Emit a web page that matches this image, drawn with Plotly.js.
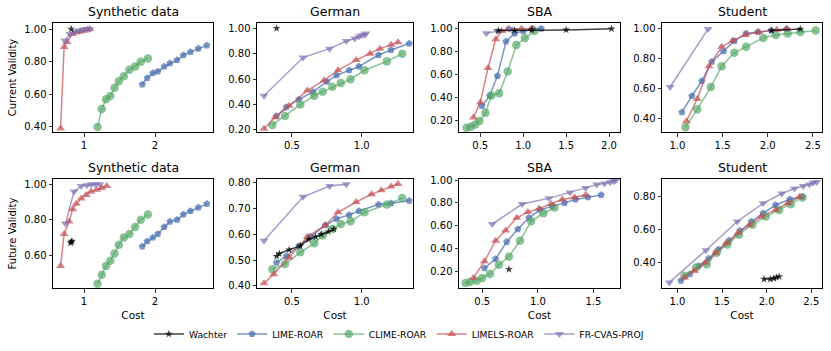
<!DOCTYPE html>
<html>
<head>
<meta charset="utf-8">
<script src="https://cdn.plot.ly/plotly-3.0.1.min.js"></script>
<style>
body { margin: 0; padding: 0; background: #fff; }
#c1 { width: 831px; height: 351px; }
</style>
</head>
<body>
<div id="c1"></div>
<script>
var names = ['Wachter', 'LIME-ROAR', 'CLIME-ROAR', 'LIMELS-ROAR', 'FR-CVAS-PROJ'];
var panelTitles = ['Synthetic data', 'German', 'SBA', 'Student'];

// ---- Synthetic data, current validity
var synCurWachterX = [0.82];
var synCurWachterY = [1.00];
var synCurLimeX = [1.82, 1.89, 1.97, 2.04, 2.13, 2.21, 2.31, 2.40, 2.50, 2.61, 2.73];
var synCurLimeY = [0.66, 0.70, 0.73, 0.74, 0.77, 0.79, 0.81, 0.84, 0.86, 0.88, 0.90];
var synCurClimeX = [1.19, 1.25, 1.31, 1.37, 1.43, 1.49, 1.56, 1.64, 1.72, 1.80, 1.90];
var synCurClimeY = [0.40, 0.51, 0.57, 0.59, 0.64, 0.68, 0.71, 0.75, 0.77, 0.80, 0.82];
var synCurLimelsX = [0.67, 0.72, 0.76, 0.84, 0.90, 0.95, 1.00, 1.05, 1.08];
var synCurLimelsY = [0.39, 0.89, 0.92, 0.97, 0.98, 0.985, 0.99, 0.995, 1.00];
var synCurFrX = [0.73, 0.80, 0.87, 0.93, 0.98, 1.03, 1.08];
var synCurFrY = [0.93, 0.97, 0.985, 0.99, 0.995, 1.00, 1.00];

// ---- German, current validity
var gerCurWachterX = [0.39];
var gerCurWachterY = [1.00];
var gerCurLimeX = [0.39, 0.46, 0.55, 0.65, 0.75, 0.82, 0.91, 0.98, 1.12, 1.21, 1.34];
var gerCurLimeY = [0.31, 0.38, 0.44, 0.50, 0.58, 0.63, 0.67, 0.70, 0.79, 0.83, 0.88];
var gerCurClimeX = [0.36, 0.45, 0.56, 0.66, 0.72, 0.79, 0.85, 0.92, 1.02, 1.18, 1.29];
var gerCurClimeY = [0.24, 0.31, 0.40, 0.47, 0.50, 0.54, 0.57, 0.60, 0.67, 0.74, 0.80];
var gerCurLimelsX = [0.30, 0.38, 0.48, 0.61, 0.73, 0.83, 0.96, 1.06, 1.13, 1.21, 1.26];
var gerCurLimelsY = [0.21, 0.30, 0.39, 0.51, 0.59, 0.67, 0.75, 0.80, 0.84, 0.87, 0.89];
var gerCurFrX = [0.30, 0.58, 0.77, 0.89, 0.95, 0.98, 1.00, 1.02, 1.03];
var gerCurFrY = [0.47, 0.77, 0.84, 0.90, 0.92, 0.935, 0.945, 0.95, 0.96];

// ---- SBA, current validity
var sbaCurWachterX = [0.71, 0.90, 1.10, 1.50, 2.03];
var sbaCurWachterY = [0.985, 0.985, 0.99, 0.99, 1.00];
var sbaCurLimeX = [0.52, 0.61, 0.70, 0.80, 0.90, 1.00, 1.11, 1.21];
var sbaCurLimeY = [0.33, 0.42, 0.59, 0.89, 0.96, 0.98, 1.00, 1.00];
var sbaCurClimeX = [0.34, 0.39, 0.44, 0.49, 0.56, 0.63, 0.72, 0.82, 0.92, 1.02, 1.13];
var sbaCurClimeY = [0.14, 0.15, 0.17, 0.20, 0.27, 0.42, 0.44, 0.63, 0.86, 0.92, 0.98];
var sbaCurLimelsX = [0.42, 0.50, 0.59, 0.68, 0.75, 0.83, 0.98, 1.10];
var sbaCurLimelsY = [0.23, 0.36, 0.66, 0.91, 0.98, 1.00, 1.00, 1.00];
var sbaCurFrX = [0.57, 0.70, 0.84];
var sbaCurFrY = [0.96, 0.98, 1.00];

// ---- Student, current validity
var stuCurWachterX = [2.04, 2.36];
var stuCurWachterY = [0.99, 1.00];
var stuCurLimeX = [1.05, 1.16, 1.27, 1.38, 1.51, 1.63, 1.76, 1.89, 2.04, 2.21];
var stuCurLimeY = [0.44, 0.55, 0.65, 0.78, 0.85, 0.92, 0.97, 0.98, 0.99, 1.00];
var stuCurClimeX = [1.09, 1.22, 1.37, 1.49, 1.63, 1.76, 1.95, 2.09, 2.22, 2.36, 2.53];
var stuCurClimeY = [0.34, 0.46, 0.61, 0.75, 0.84, 0.88, 0.94, 0.96, 0.97, 0.98, 0.99];
var stuCurLimelsX = [1.10, 1.22, 1.35, 1.49, 1.61, 1.75, 1.90, 2.10, 2.21];
var stuCurLimelsY = [0.38, 0.53, 0.75, 0.88, 0.92, 0.96, 0.98, 0.995, 1.00];
var stuCurFrX = [0.92, 1.34];
var stuCurFrY = [0.61, 1.00];

// ---- Synthetic data, future validity
var synFutWachterX = [0.81, 0.83, 0.82];
var synFutWachterY = [0.67, 0.68, 0.675];
var synFutLimeX = [1.82, 1.89, 1.97, 2.04, 2.13, 2.21, 2.31, 2.40, 2.50, 2.61, 2.73];
var synFutLimeY = [0.65, 0.68, 0.70, 0.72, 0.76, 0.79, 0.80, 0.83, 0.85, 0.87, 0.89];
var synFutClimeX = [1.19, 1.25, 1.31, 1.37, 1.43, 1.49, 1.56, 1.64, 1.72, 1.80, 1.90];
var synFutClimeY = [0.44, 0.49, 0.54, 0.57, 0.61, 0.66, 0.70, 0.72, 0.76, 0.80, 0.83];
var synFutLimelsX = [0.67, 0.72, 0.79, 0.84, 0.89, 0.96, 1.03, 1.10, 1.18, 1.25, 1.32];
var synFutLimelsY = [0.54, 0.72, 0.79, 0.86, 0.89, 0.92, 0.94, 0.96, 0.97, 0.98, 0.99];
var synFutFrX = [0.74, 0.86, 0.96, 1.04, 1.10, 1.16, 1.22];
var synFutFrY = [0.78, 0.96, 0.99, 0.995, 1.00, 1.00, 1.00];

// ---- German, future validity
var gerFutWachterX = [0.39, 0.41, 0.48, 0.56, 0.62, 0.67, 0.71, 0.76, 0.80];
var gerFutWachterY = [0.515, 0.525, 0.54, 0.555, 0.58, 0.59, 0.60, 0.61, 0.62];
var gerFutLimeX = [0.39, 0.46, 0.55, 0.63, 0.74, 0.82, 0.91, 0.98, 1.12, 1.21, 1.34];
var gerFutLimeY = [0.49, 0.515, 0.555, 0.59, 0.635, 0.66, 0.675, 0.69, 0.715, 0.72, 0.73];
var gerFutClimeX = [0.36, 0.45, 0.56, 0.66, 0.72, 0.79, 0.85, 0.92, 1.02, 1.18, 1.29];
var gerFutClimeY = [0.465, 0.485, 0.53, 0.565, 0.595, 0.62, 0.64, 0.65, 0.685, 0.715, 0.74];
var gerFutLimelsX = [0.30, 0.37, 0.48, 0.61, 0.74, 0.83, 0.96, 1.07, 1.14, 1.21, 1.26];
var gerFutLimelsY = [0.41, 0.445, 0.51, 0.59, 0.635, 0.685, 0.725, 0.755, 0.77, 0.785, 0.795];
var gerFutFrX = [0.30, 0.58, 0.77, 0.89];
var gerFutFrY = [0.575, 0.745, 0.787, 0.794];

// ---- SBA, future validity
var sbaFutWachterX = [0.74];
var sbaFutWachterY = [0.22];
var sbaFutLimeX = [0.52, 0.62, 0.72, 0.82, 0.92, 1.02, 1.13, 1.24, 1.34, 1.45, 1.57];
var sbaFutLimeY = [0.23, 0.31, 0.46, 0.57, 0.67, 0.74, 0.77, 0.80, 0.83, 0.85, 0.87];
var sbaFutClimeX = [0.35, 0.39, 0.45, 0.50, 0.57, 0.65, 0.74, 0.84, 0.94, 1.05, 1.15];
var sbaFutClimeY = [0.10, 0.11, 0.12, 0.145, 0.18, 0.26, 0.33, 0.47, 0.64, 0.71, 0.76];
var sbaFutLimelsX = [0.42, 0.52, 0.62, 0.71, 0.81, 0.91, 1.01, 1.12, 1.22, 1.33, 1.43];
var sbaFutLimelsY = [0.145, 0.29, 0.47, 0.56, 0.67, 0.72, 0.75, 0.79, 0.83, 0.85, 0.87];
var sbaFutFrX = [0.59, 0.86, 1.10, 1.29, 1.43, 1.53, 1.60, 1.65, 1.68, 1.70];
var sbaFutFrY = [0.615, 0.79, 0.84, 0.89, 0.93, 0.96, 0.97, 0.98, 0.99, 0.995];

// ---- Student, future validity
var stuFutWachterX = [1.97, 2.04, 2.08, 2.11, 2.14];
var stuFutWachterY = [0.30, 0.30, 0.305, 0.31, 0.315];
var stuFutLimeX = [1.04, 1.14, 1.24, 1.35, 1.46, 1.58, 1.70, 1.83, 1.96, 2.10, 2.26, 2.40];
var stuFutLimeY = [0.29, 0.33, 0.38, 0.425, 0.48, 0.535, 0.595, 0.65, 0.70, 0.75, 0.785, 0.80];
var stuFutClimeX = [1.08, 1.21, 1.33, 1.44, 1.56, 1.69, 1.84, 1.99, 2.14, 2.27, 2.40];
var stuFutClimeY = [0.32, 0.37, 0.39, 0.46, 0.51, 0.57, 0.63, 0.68, 0.72, 0.755, 0.795];
var stuFutLimelsX = [1.08, 1.19, 1.31, 1.43, 1.55, 1.68, 1.81, 1.94, 2.10, 2.24, 2.37];
var stuFutLimelsY = [0.31, 0.35, 0.40, 0.46, 0.52, 0.58, 0.63, 0.68, 0.72, 0.76, 0.80];
var stuFutFrX = [0.91, 1.32, 1.67, 1.96, 2.17, 2.31, 2.41, 2.48, 2.52, 2.56];
var stuFutFrY = [0.28, 0.475, 0.65, 0.76, 0.82, 0.85, 0.865, 0.875, 0.885, 0.89];

var colors = ['rgba(0,0,0,0.75)', 'rgba(76,114,176,0.75)', 'rgba(85,168,104,0.7)', 'rgba(196,78,82,0.7)', 'rgba(129,114,178,0.7)'];
var symbols = ['star', 'pentagon', 'circle', 'triangle-up', 'triangle-down'];
var sizes = [6, 7.5, 8.5, 8, 8];

var data = [];

function mk(k, x, y, n) {
	var sfx = n == 1 ? '' : String(n);
	data.push({
		x: x,
		y: y,
		name: names[k],
		mode: 'lines+markers',
		type: 'scatter',
		xaxis: 'x' + sfx,
		yaxis: 'y' + sfx,
		showlegend: n == 1,
		legendrank: k + 1,
		line: {color: colors[k], width: 1.5},
		marker: {symbol: symbols[k], size: sizes[k], color: colors[k], line: {width: 0}}
	});
}

function panel(n, w, l, c, ls, f) {
	// draw order like the original: lime, clime, limels, fr, then wachter on top
	mk(1, l[0], l[1], n);
	mk(2, c[0], c[1], n);
	mk(3, ls[0], ls[1], n);
	mk(4, f[0], f[1], n);
	mk(0, w[0], w[1], n);
}

panel(1, [synCurWachterX, synCurWachterY], [synCurLimeX, synCurLimeY], [synCurClimeX, synCurClimeY], [synCurLimelsX, synCurLimelsY], [synCurFrX, synCurFrY]);
panel(2, [gerCurWachterX, gerCurWachterY], [gerCurLimeX, gerCurLimeY], [gerCurClimeX, gerCurClimeY], [gerCurLimelsX, gerCurLimelsY], [gerCurFrX, gerCurFrY]);
panel(3, [sbaCurWachterX, sbaCurWachterY], [sbaCurLimeX, sbaCurLimeY], [sbaCurClimeX, sbaCurClimeY], [sbaCurLimelsX, sbaCurLimelsY], [sbaCurFrX, sbaCurFrY]);
panel(4, [stuCurWachterX, stuCurWachterY], [stuCurLimeX, stuCurLimeY], [stuCurClimeX, stuCurClimeY], [stuCurLimelsX, stuCurLimelsY], [stuCurFrX, stuCurFrY]);
panel(5, [synFutWachterX, synFutWachterY], [synFutLimeX, synFutLimeY], [synFutClimeX, synFutClimeY], [synFutLimelsX, synFutLimelsY], [synFutFrX, synFutFrY]);
panel(6, [gerFutWachterX, gerFutWachterY], [gerFutLimeX, gerFutLimeY], [gerFutClimeX, gerFutClimeY], [gerFutLimelsX, gerFutLimelsY], [gerFutFrX, gerFutFrY]);
panel(7, [sbaFutWachterX, sbaFutWachterY], [sbaFutLimeX, sbaFutLimeY], [sbaFutClimeX, sbaFutClimeY], [sbaFutLimelsX, sbaFutLimelsY], [sbaFutFrX, sbaFutFrY]);
panel(8, [stuFutWachterX, stuFutWachterY], [stuFutLimeX, stuFutLimeY], [stuFutClimeX, stuFutClimeY], [stuFutLimelsX, stuFutLimelsY], [stuFutFrX, stuFutFrY]);

// pixel boxes of the 4 columns and 2 rows (831 x 351 figure)
var colPx = [[53, 213], [257, 413], [459, 620], [662, 822]];
var rowPx = [[23, 132], [179, 288]];
var xr = [[0.563, 2.817], [0.25, 1.367], [0.252, 2.128], [0.83, 2.60],
          [0.563, 2.817], [0.25, 1.367], [0.291, 1.739], [0.828, 2.62]];
var yr = [[0.369, 1.037], [0.184, 1.042], [0.104, 1.05], [0.308, 1.04],
          [0.416, 1.03], [0.392, 0.814], [0.057, 1.009], [0.246, 0.908]];
var xd = [1, 0.5, 0.5, 0.5, 1, 0.5, 0.5, 0.5];
var yd = [0.2, 0.2, 0.2, 0.2, 0.2, 0.1, 0.2, 0.2];

var font = 'DejaVu Sans, sans-serif';
var layout = {
	width: 831,
	height: 351,
	margin: {l: 0, r: 0, t: 0, b: 0},
	paper_bgcolor: '#fff',
	plot_bgcolor: '#fff',
	font: {family: font, size: 10, color: '#000'},
	showlegend: true,
	legend: {
		orientation: 'h',
		x: 0.48, xanchor: 'center',
		y: 1 - 334 / 351, yanchor: 'middle',
		font: {family: font, size: 9.2, color: '#000'},
		itemwidth: 30,
		tracegroupgap: 0
	},
	annotations: []
};

for (var n = 1; n <= 8; n++) {
	var ci = (n - 1) % 4;
	var ri = n > 4 ? 1 : 0;
	var sfx = n == 1 ? '' : String(n);
	var xa = {
		domain: [colPx[ci][0] / 831, colPx[ci][1] / 831],
		range: xr[n - 1],
		dtick: xd[n - 1],
		tickformat: xd[n - 1] == 1 ? 'd' : '.1f',
		anchor: 'y' + sfx,
		showgrid: false, zeroline: false,
		showline: true, mirror: true, linecolor: '#000', linewidth: 1,
		ticks: 'outside', ticklen: 3.5, tickwidth: 0.8, tickcolor: '#000',
		tickfont: {family: font, size: 10}
	};
	if (ri == 1) {
		xa.title = {text: 'Cost', font: {family: font, size: 10.5}, standoff: 6};
	}
	var ya = {
		domain: [1 - rowPx[ri][1] / 351, 1 - rowPx[ri][0] / 351],
		range: yr[n - 1],
		dtick: yd[n - 1],
		tickformat: '.2f',
		anchor: 'x' + sfx,
		showgrid: false, zeroline: false,
		showline: true, mirror: true, linecolor: '#000', linewidth: 1,
		ticks: 'outside', ticklen: 3.5, tickwidth: 0.8, tickcolor: '#000',
		tickfont: {family: font, size: 10}
	};
	if (ci == 0) {
		ya.title = {text: ri == 0 ? 'Current Validity' : 'Future Validity', font: {family: font, size: 10}, standoff: 5};
	}
	layout['xaxis' + sfx] = xa;
	layout['yaxis' + sfx] = ya;

	layout.annotations.push({
		text: panelTitles[ci],
		xref: 'paper', yref: 'paper',
		x: (colPx[ci][0] + colPx[ci][1]) / 2 / 831,
		y: 1 - rowPx[ri][0] / 351,
		xanchor: 'center', yanchor: 'bottom',
		yshift: 2,
		showarrow: false,
		font: {family: font, size: 12.5, color: '#000'}
	});
}

Plotly.newPlot('c1', data, layout, {displayModeBar: false, staticPlot: true});
</script>
</body>
</html>
